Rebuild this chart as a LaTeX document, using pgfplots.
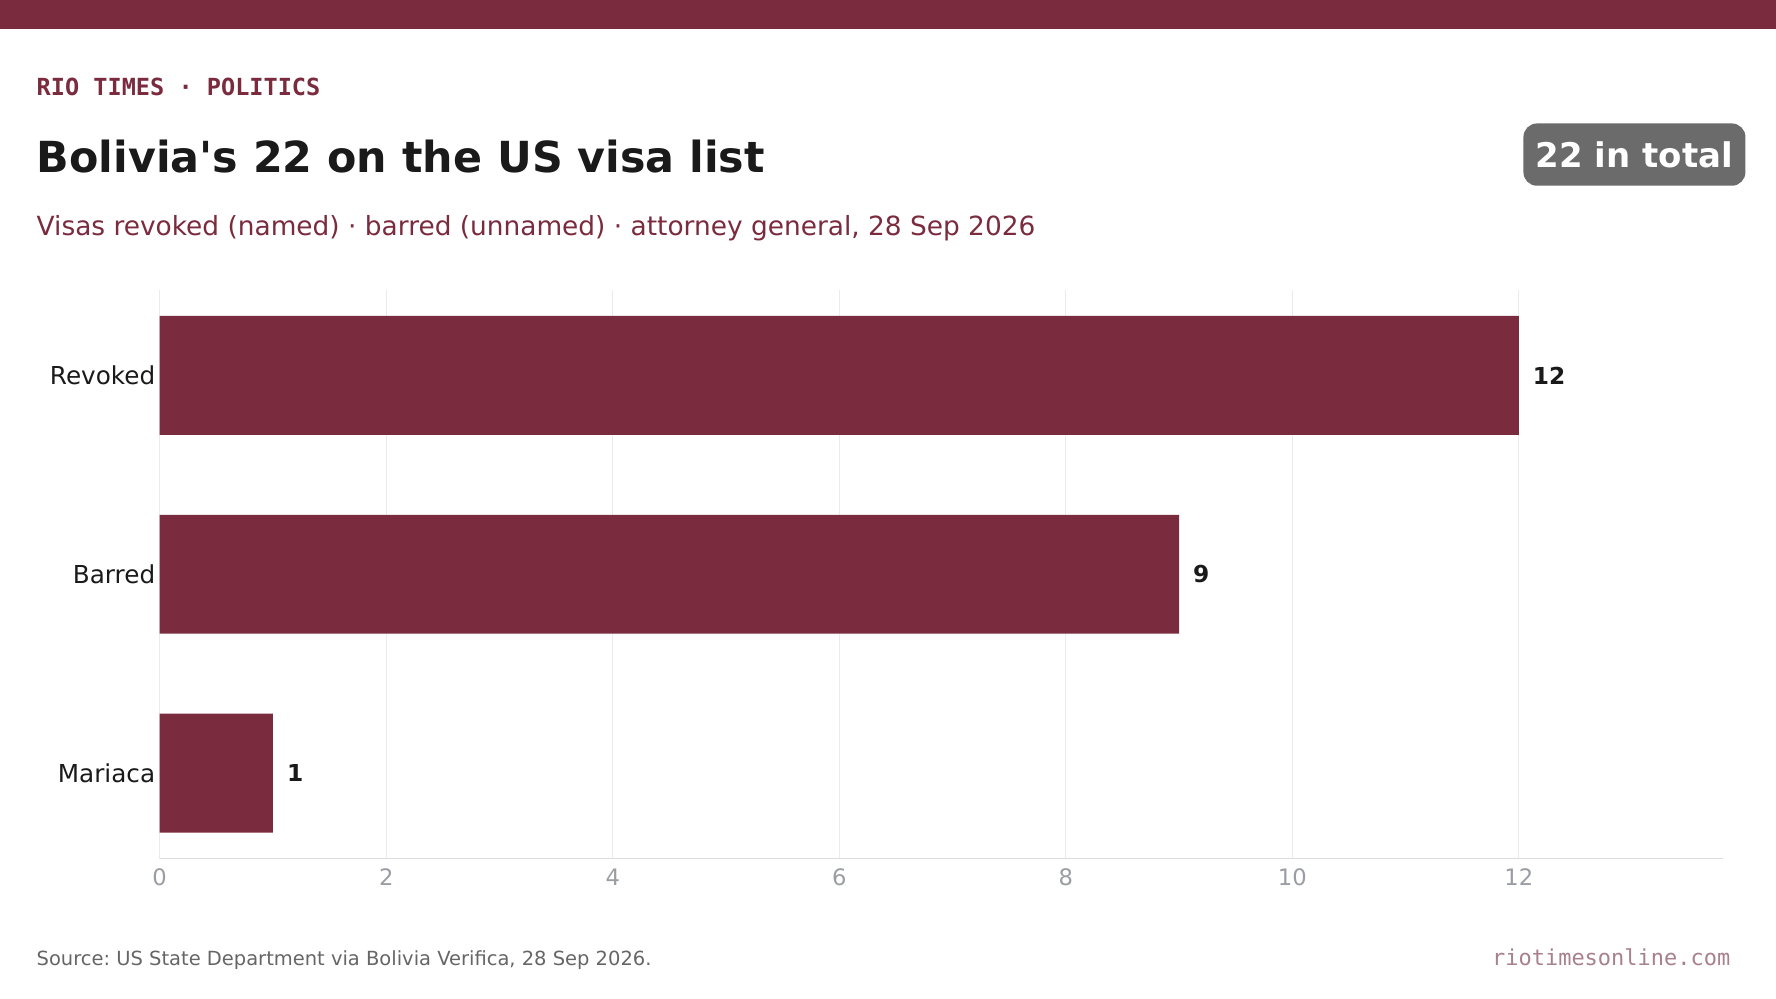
\documentclass[border=0pt]{standalone}
\usepackage{fontspec}
\setmainfont{DejaVu Sans}
\newfontfamily\monofont{DejaVu Sans Mono}
\newfontfamily\titlefont{DejaVu Sans}
\usepackage{pgfplots}
\pgfplotsset{compat=1.18}

\definecolor{maroon}{HTML}{7A2C3E}
\definecolor{badgegray}{HTML}{6B6B6B}
\definecolor{gridgray}{HTML}{EBEBEB}
\definecolor{linegray}{HTML}{DDDDDD}
\definecolor{tickgray}{HTML}{9A9EA3}
\definecolor{inkdark}{HTML}{1A1A1A}
\definecolor{srcgray}{HTML}{666666}
\definecolor{urlpink}{HTML}{A9808E}

\frenchspacing
\begin{document}
\begin{tikzpicture}
% canvas, 1 px of the 1568 wide reference = 0.5pt
\path[use as bounding box, fill=white] (0,0) rectangle (784pt,441pt);
\fill[maroon] (0,428pt) rectangle (784pt,441pt);

\node[anchor=base west, inner sep=0pt, text=maroon,
  font=\monofont\bfseries\fontsize{10.4}{12}\selectfont] at (16pt,399pt) {RIO TIMES · POLITICS};
\node[anchor=base west, inner sep=0pt, text=inkdark,
  font=\titlefont\bfseries\fontsize{18.9}{22}\selectfont] at (16pt,365pt) {Bolivia's 22 on the US visa list};
\node[anchor=base west, inner sep=0pt, text=maroon,
  font=\fontsize{11.65}{14}\selectfont] at (16pt,337pt) {Visas revoked (named) · barred (unnamed) · attorney general, 28 Sep 2026};

\node[fill=badgegray, rounded corners=6pt, minimum width=98pt, minimum height=27.5pt,
  inner sep=0pt, text=white, font=\bfseries\fontsize{15}{18}\selectfont]
  at (721.5pt,372.75pt) {22 in total};

\begin{axis}[
  at={(70.5pt,62pt)}, anchor=south west,
  scale only axis,
  width=690pt, height=251pt,
  xmin=0, xmax=13.8,
  ymin=-0.43, ymax=2.43,
  xbar, bar width=52.5pt,
  xtick={0,2,...,12},
  ytick={0,1,2},
  yticklabels={Mariaca,Barred,Revoked},
  axis x line*=bottom, axis y line*=left,
  x axis line style={draw=linegray, line width=0.7pt, -},
  y axis line style={draw=none},
  major tick length=0pt,
  xmajorgrids,
  grid style={draw=gridgray, line width=0.5pt},
  /pgf/number format/assume math mode=true,
  xticklabel style={text=tickgray, font=\fontsize{10}{12}\selectfont, yshift=-1pt},
  yticklabel style={text=inkdark, font=\fontsize{10.9}{13}\selectfont, inner sep=0pt, xshift=-1.8pt},
  nodes near coords,
  nodes near coords align=horizontal,
  every node near coord/.append style={text=inkdark, anchor=west, inner sep=0pt, xshift=6pt,
    font=\bfseries\fontsize{10.3}{12}\selectfont},
]
\addplot[fill=maroon, draw=none] coordinates {(12,2) (9,1) (1,0)};
\end{axis}

\node[anchor=base west, inner sep=0pt, text=srcgray,
  font=\fontsize{8.6}{11}\selectfont] at (16pt,15pt) {Source: US State Department via Bolivia Verifica, 28 Sep 2026.};
\node[anchor=base east, inner sep=0pt, text=urlpink,
  font=\monofont\fontsize{9.7}{11}\selectfont] at (764pt,15pt) {riotimesonline.com};
\end{tikzpicture}
\end{document}
